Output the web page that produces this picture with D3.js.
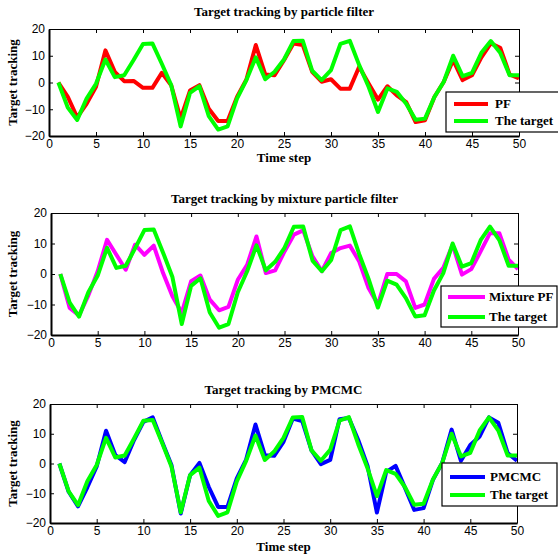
<!DOCTYPE html>
<html>
<head>
<meta charset="utf-8">
<script src="https://cdn.jsdelivr.net/npm/d3@7"></script>
<style>
  body { margin: 0; background: #fff; }
  svg { display: block; }
  .tick text { font-family: "Liberation Sans", Arial, sans-serif; font-size: 12px; fill: #000; }
  .ttl { font-family: "Liberation Serif", "Times New Roman", serif; font-weight: bold; font-size: 13px; }
</style>
</head>
<body>
<svg id="chart" width="558" height="556"></svg>
<script>
const timeSteps = d3.range(1, 51);
const xTicks = [0, 5, 10, 15, 20, 25, 30, 35, 40, 45, 50];
const yTicks = [-20, -10, 0, 10, 20];

const target = [0, -9.4, -14, -6, -0.5, 8.6, 2, 2.7, 8.4, 14.4,
  14.6, 7, -1, -16.4, -3.9, -1.4, -12.6, -17.6, -16.4, -6,
  0.9, 9.4, 1.2, 4, 8.6, 15.5, 15.6, 4.4, 0.9, 4.6,
  14.4, 15.6, 6.5, -1.6, -11, -2.2, -3.5, -7.9, -13.9, -13.5,
  -5.4, 0.3, 10, 2.4, 3.6, 11.1, 15.5, 11.1, 2.7, 2.7];

const pf = [0, -5.4, -13, -8, -1.6, 12, 4, 0.5, 0.6, -2,
  -2, 3.6, -1, -13.5, -3, -1, -9.8, -14.4, -14.4, -5.4,
  1.1, 14, 3, 2.7, 8.3, 14.6, 14, 4, 0.3, 1.2,
  -2.3, -2.3, 5.9, -0.4, -6.4, -1.4, -4.8, -7.3, -14.8, -14.1,
  -5.4, 0.3, 8.4, 0.9, 2.7, 9.4, 14.6, 13, 3, 1.5];

const mixturePf = [0, -11.1, -13.6, -7, 0.9, 11.2, 6.3, 1.4, 9.6, 6.3,
  9.3, 0.3, -7.3, -12.7, -2.4, -0.5, -8.4, -11.9, -10.8, -1.9,
  3, 12.3, 0.3, 1.2, 7.4, 12.9, 14.3, 5.8, 0.9, 6.9,
  8.5, 9.3, 4.1, -4.6, -10, 0, 0, -2.4, -11.1, -10,
  -1.6, 2, 9.6, -0.2, 1.6, 7.4, 13.4, 13.4, 4.7, 1.6];

const pmcmc = [0, -9.5, -14.4, -8, -1, 11, 2.8, 0.5, 7.9, 14,
  15.5, 7.3, -0.5, -16.8, -3.9, 0.2, -7.9, -14.6, -14.6, -5,
  1.3, 13.1, 2.8, 2.6, 7.3, 15.1, 14.3, 4.4, -0.2, 1.2,
  14.9, 15.3, 7.9, -0.8, -16.5, -2.8, -0.8, -8.1, -15.6, -15,
  -5.5, 0.3, 11.4, 0.9, 6.2, 9.1, 15.5, 13.7, 3.5, 0.9];

const panels = [
  { title: "Target tracking by particle filter", est: pf, estName: "PF", color: "#ff0000",
    box: [49, 519, 29, 136], titleY: 13, xlabY: 159,
    leg: { x0: 446, x1: 562, y0: 92, y1: 132, rows: [104, 121], l0: 454, l1: 488, tx: 495 } },
  { title: "Target tracking by mixture particle filter", est: mixturePf, estName: "Mixture PF", color: "#ff00ff",
    box: [51, 518, 213, 335], titleY: 200, xlabY: null,
    leg: { x0: 441, x1: 557, y0: 286, y1: 327, rows: [297, 317], l0: 448, l1: 485, tx: 489 } },
  { title: "Target tracking by PMCMC", est: pmcmc, estName: "PMCMC", color: "#0000ff",
    box: [50, 517, 404, 523], titleY: 391, xlabY: 548,
    leg: { x0: 442, x1: 557, y0: 463, y1: 506, rows: [477, 495], l0: 450, l1: 485, tx: 490 } }
];

const svg = d3.select("#chart");

panels.forEach(p => {
  const [L, R, T, B] = p.box;
  const x = d3.scaleLinear().domain([0, 50]).range([L, R]);
  const y = d3.scaleLinear().domain([-20, 20]).range([B, T]);
  const g = svg.append("g");

  g.append("text").attr("class", "ttl").attr("x", (L + R) / 2).attr("y", p.titleY)
    .attr("text-anchor", "middle").attr("dominant-baseline", "middle").text(p.title);

  g.append("text").attr("class", "ttl")
    .attr("transform", `translate(14,${(T + B) / 2}) rotate(-90)`)
    .attr("text-anchor", "middle").attr("dominant-baseline", "middle").text("Target tracking");

  if (p.xlabY !== null) {
    g.append("text").attr("class", "ttl").attr("x", (L + R) / 2).attr("y", p.xlabY)
      .attr("text-anchor", "middle").attr("dominant-baseline", "middle").text("Time step");
  }

  const line = d3.line().x((d, i) => x(timeSteps[i])).y(d => y(d));
  g.append("path").datum(p.est).attr("d", line).attr("fill", "none")
    .attr("stroke", p.color).attr("stroke-width", 4).attr("stroke-linejoin", "round");
  g.append("path").datum(target).attr("d", line).attr("fill", "none")
    .attr("stroke", "#00ff00").attr("stroke-width", 4).attr("stroke-linejoin", "round");

  const bottom = g.append("g").attr("transform", `translate(0,${B})`)
    .call(d3.axisBottom(x).tickValues(xTicks).tickSizeInner(-4).tickSizeOuter(0).tickPadding(3));
  const left = g.append("g").attr("transform", `translate(${L},0)`)
    .call(d3.axisLeft(y).tickValues(yTicks).tickSizeInner(-4).tickSizeOuter(0).tickPadding(4));
  const top = g.append("g").attr("transform", `translate(0,${T})`)
    .call(d3.axisTop(x).tickValues(xTicks).tickSizeInner(-4).tickSizeOuter(0).tickFormat(""));
  const right = g.append("g").attr("transform", `translate(${R},0)`)
    .call(d3.axisRight(y).tickValues(yTicks).tickSizeInner(-4).tickSizeOuter(0).tickFormat(""));
  [bottom, left].forEach(a => a.select(".domain").attr("stroke", "#000").attr("stroke-width", 2));
  [top, right].forEach(a => a.select(".domain").attr("stroke", "#000").attr("stroke-width", 1));
  g.selectAll(".tick line").attr("stroke", "#000");
  g.selectAll(".tick text").attr("font-size", 12);

  const lg = p.leg;
  g.append("rect").attr("x", lg.x0).attr("y", lg.y0).attr("width", lg.x1 - lg.x0).attr("height", lg.y1 - lg.y0)
    .attr("fill", "#fff").attr("stroke", "#000").attr("stroke-width", 1.2);
  const items = [{ name: p.estName, color: p.color }, { name: "The target", color: "#00ff00" }];
  items.forEach((it, i) => {
    g.append("line").attr("x1", lg.l0).attr("x2", lg.l1).attr("y1", lg.rows[i]).attr("y2", lg.rows[i])
      .attr("stroke", it.color).attr("stroke-width", 4);
    g.append("text").attr("class", "ttl").attr("x", lg.tx).attr("y", lg.rows[i] + 1)
      .attr("dominant-baseline", "middle").text(it.name);
  });
});
</script>
</body>
</html>
